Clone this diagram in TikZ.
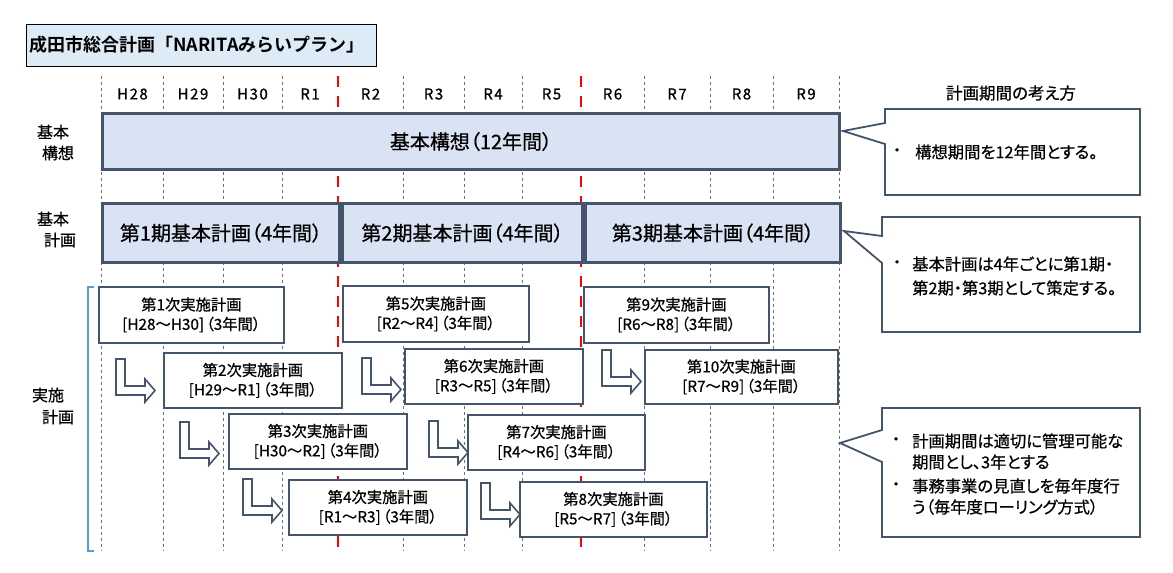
\documentclass[tikz,border=0pt]{standalone}
\usepackage{fontspec}
\setmainfont{Noto Sans CJK JP}[RawFeature=+palt, FakeBold=0.6]
\newfontfamily\yearfont[LetterSpace=10, FakeBold=0.8]{Noto Sans CJK JP}
\newfontfamily\titlefont{Noto Sans CJK JP Bold}
\newcommand\gapk{\hspace{2pt}}
\definecolor{slate}{HTML}{44546A}
\definecolor{boxfill}{HTML}{DAE3F3}
\definecolor{titlefill}{HTML}{DDEBF7}
\definecolor{brk}{HTML}{5B9BD5}
\definecolor{gridc}{HTML}{6F6F6F}
\tikzset{
  grid/.style={draw=gridc, line width=0.8pt, dash pattern=on 3pt off 3pt},
  reddash/.style={draw=red, line width=2.6pt, dash pattern=on 11pt off 9pt},
  bigbox/.style={draw=slate, fill=boxfill, line width=3pt, anchor=north west, inner sep=0pt,
     font=\fontsize{20}{23}\selectfont},
  implbox/.style={draw=slate, fill=white, line width=1.8pt, anchor=north west, inner sep=0pt,
     align=center, font=\fontsize{15.3}{19.5}\selectfont},
  arrowst/.style={draw=slate, fill=white, line width=1.6pt, line join=miter},
  larrow/.pic={\draw[arrowst] (0,0) -- (9,0) -- (9,27) -- (29,27) -- (29,20) -- (39,31.5) -- (29,43) -- (29,36) -- (0,36) -- cycle;},
  callout/.style={draw=slate, fill=white, line width=1.8pt, line join=miter},
  ctext/.style={anchor=west, inner sep=0pt, font=\fontsize{16.3}{20}\selectfont},
  cbullet/.style={inner sep=0pt, font=\fontsize{16}{20}\selectfont},
  yearlbl/.style={inner sep=0pt, font=\yearfont\fontsize{15}{18}\selectfont},
  sidelbl/.style={inner sep=0pt, font=\fontsize{16}{19}\selectfont},
  bracketst/.style={draw=brk, line width=1.4pt},
}
\begin{document}
\begin{tikzpicture}[x=1pt,y=-1pt]
\useasboundingbox (0,0) rectangle (1173,573);

% title
\node[draw=black, fill=titlefill, line width=1.2pt, anchor=north west, minimum width=350pt, minimum height=42pt, inner sep=0pt] (titlebox) at (26,24) {};
\node[inner sep=0pt, font=\titlefont\fontsize{18}{20}\selectfont] (titletext) at (197,45) {成田市総合計画「NARITAみらいプラン」};

% grid
\foreach \x in {101.7,163,223,282,403,464,522,644,710,773,839}
  \draw[grid] (\x,76) -- (\x,551);
\draw[reddash] (338,76) -- (338,551);
\draw[reddash] (581,76) -- (581,551);

% year labels
\foreach \lbl/\x in {H28/132.5,H29/193,H30/252.5,R1/310,R2/370.5,R3/433.5,R4/493,R5/551.5,R6/612.5,R7/677,R8/741.5,R9/806}
  \node[yearlbl] (y\lbl) at (\x,94) {\lbl};

% side labels
\node[sidelbl] (s1a) at (53,132) {基本};
\node[sidelbl] (s1b) at (58,153) {構想};
\node[sidelbl] (s2a) at (53,219) {基本};
\node[sidelbl] (s2b) at (60,240) {計画};
\node[sidelbl] (s3a) at (48,395) {実施};
\node[sidelbl] (s3b) at (58,417) {計画};
\draw[bracketst] (94,287) -- (88,287) -- (88,551) -- (94,551);

% basic vision
\node[bigbox, minimum width=737pt, minimum height=56pt] (kousou) at (101,112) {基本構想（12年間）};
% basic plans
\node[bigbox, minimum width=237pt, minimum height=59pt] (kp1) at (101,202) {第1期基本計画（4年間）};
\node[bigbox, minimum width=240pt, minimum height=59pt] (kp2) at (341,202) {第2期基本計画（4年間）};
\node[bigbox, minimum width=255pt, minimum height=59pt] (kp3) at (584,202) {第3期基本計画（4年間）};

% implementation plans
\node[implbox, minimum width=185pt, minimum height=56pt] (j1) at (98,286) {第1次実施計画\\{}[H28～H30]\gapk（3年間）};
\node[implbox, minimum width=186pt, minimum height=56pt] (j5) at (342,285) {第5次実施計画\\{}[R2～R4]\gapk（3年間）};
\node[implbox, minimum width=185pt, minimum height=56pt] (j9) at (583,286) {第9次実施計画\\{}[R6～R8]\gapk（3年間）};
\node[implbox, minimum width=178pt, minimum height=55pt] (j2) at (163,352) {第2次実施計画\\{}[H29～R1]\gapk（3年間）};
\node[implbox, minimum width=178pt, minimum height=55pt] (j6) at (404,348) {第6次実施計画\\{}[R3～R5]\gapk（3年間）};
\node[implbox, minimum width=193pt, minimum height=54pt] (j10) at (644,349) {第10次実施計画\\{}[R7～R9]\gapk（3年間）};
\node[implbox, minimum width=178pt, minimum height=55pt] (j3) at (228,413) {第3次実施計画\\{}[H30～R2]\gapk（3年間）};
\node[implbox, minimum width=177pt, minimum height=55pt] (j7) at (467,414) {第7次実施計画\\{}[R4～R6]\gapk（3年間）};
\node[implbox, minimum width=178pt, minimum height=55pt] (j4) at (288,479) {第4次実施計画\\{}[R1～R3]\gapk（3年間）};
\node[implbox, minimum width=187pt, minimum height=55pt] (j8) at (519,481) {第8次実施計画\\{}[R5～R7]\gapk（3年間）};

% L arrows
\pic at (116,359) {larrow};
\pic at (362,358) {larrow};
\pic at (602,350) {larrow};
\pic at (180,422) {larrow};
\pic at (429,421) {larrow};
\pic at (243,479) {larrow};
\pic at (481,483) {larrow};

% right side header
\node[inner sep=0pt, font=\fontsize{16.5}{20}\selectfont] (hdr) at (1011,93) {計画期間の考え方};

% callouts
\draw[callout] (885,109) -- (1140,109) -- (1140,195) -- (885,195) -- (885,144) -- (843,131) -- (885,123) -- cycle;
\node[cbullet] (b1) at (897,152) {・};
\node[ctext] (t1) at (915,152) {構想期間を12年間とする。};

\draw[callout] (882,217) -- (1140,217) -- (1140,332) -- (882,332) -- (882,263) -- (844,231) -- (882,236) -- cycle;
\node[cbullet] (b2) at (897,264) {・};
\node[ctext] (t2a) at (912,264) {基本計画は4年ごとに第1期・};
\node[ctext] (t2b) at (912,288) {第2期・第3期として策定する。};

\draw[callout] (882,408) -- (1140,408) -- (1140,537) -- (882,537) -- (882,462) -- (840,443) -- (882,430) -- cycle;
\node[cbullet] (b3) at (896,441) {・};
\node[ctext] (t3a) at (912,441) {計画期間は適切に管理可能な};
\node[ctext] (t3b) at (912,462) {期間とし、3年とする};
\node[cbullet] (b4) at (896,486) {・};
\node[ctext] (t3c) at (912,486) {事務事業の見直しを毎年度行};
\node[ctext] (t3d) at (912,507) {う（毎年度ローリング方式）};
\end{tikzpicture}
\end{document}
